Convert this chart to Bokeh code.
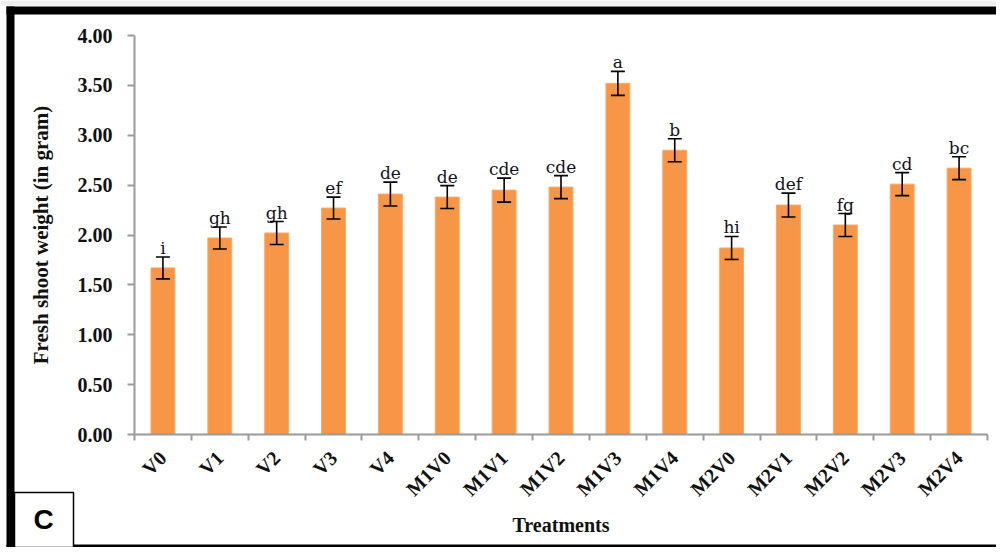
import math
from bokeh.plotting import figure
from bokeh.models import (ColumnDataSource, Whisker, TeeHead, FixedTicker, Label,
                          BoxAnnotation, Range1d, PrintfTickFormatter)
from bokeh.core.properties import value
from bokeh.embed import file_html
from bokeh.resources import INLINE

# ---- data ----
treatments = ["V0", "V1", "V2", "V3", "V4", "M1V0", "M1V1", "M1V2", "M1V3", "M1V4",
              "M2V0", "M2V1", "M2V2", "M2V3", "M2V4"]
means = [1.67, 1.97, 2.02, 2.27, 2.41, 2.38, 2.45, 2.48, 3.52, 2.85,
         1.87, 2.30, 2.10, 2.51, 2.67]
errors = [0.11, 0.11, 0.115, 0.11, 0.12, 0.115, 0.12, 0.115, 0.12, 0.115,
          0.115, 0.12, 0.115, 0.115, 0.115]
letters = ["i", "gh", "gh", "ef", "de", "de", "cde", "cde", "a", "b",
           "hi", "def", "fg", "cd", "bc"]
y_ticks = [0.0, 0.5, 1.0, 1.5, 2.0, 2.5, 3.0, 3.5, 4.0]
y_max = 4.0

n = len(treatments)
xpos = [i + 0.5 for i in range(n)]
src = ColumnDataSource(dict(
    x=xpos, top=means, upper=[m + e for m, e in zip(means, errors)],
    lower=[m - e for m, e in zip(means, errors)], letter=letters))

# ---- layout (pixels on the canvas) ----
W, H = 996, 547
PL, PR, PT, PB = 134, 987, 35, 434      # plotting area of the bars
sx = (PR - PL) / n
sy = (PB - PT) / y_max
x_range = Range1d(-PL / sx, n + (W - PR) / sx)
y_range = Range1d(-(H - PB) / sy, y_max + PT / sy)

p = figure(width=W, height=H, output_backend="svg", toolbar_location=None,
           x_range=x_range, y_range=y_range,
           min_border_left=0, min_border_right=0, min_border_top=0,
           min_border_bottom=0)
p.outline_line_color = None
p.xgrid.visible = False
p.ygrid.visible = False
p.background_fill_color = "white"
p.border_fill_color = "white"

p.vbar(x="x", top="top", width=0.42, source=src, fill_color="#F79646",
       line_color="#F9A866", line_width=1)

wh = Whisker(base="x", upper="upper", lower="lower", source=src,
             line_color="black", line_width=1.6,
             upper_head=TeeHead(size=14, line_color="black", line_width=1.6),
             lower_head=TeeHead(size=14, line_color="black", line_width=1.6))
wh.level = "overlay"
p.add_layout(wh)

p.text(x="x", y="upper", text="letter", source=src, text_align="center",
       text_baseline="alphabetic", y_offset=-9, text_color="#111122",
       text_font=value("DejaVu Serif"), text_font_size="17px")

serif = "Liberation Serif"
axis_color = "#9a9a9a"

# x axis
xa = p.xaxis[0]
xa.fixed_location = 0
xa.bounds = (0, n)
xa.ticker = FixedTicker(ticks=xpos, minor_ticks=list(range(n + 1)))
xa.major_label_overrides = {xv: t for xv, t in zip(xpos, treatments)}
xa.major_tick_out = 0
xa.major_tick_in = 0
xa.minor_tick_out = 6
xa.minor_tick_in = 0
xa.minor_tick_line_color = axis_color
xa.minor_tick_line_width = 2
xa.axis_line_color = axis_color
xa.axis_line_width = 2
xa.major_label_orientation = math.pi / 4
xa.major_label_text_font = serif
xa.major_label_text_font_style = "bold"
xa.major_label_text_font_size = "20px"
xa.major_label_text_color = "#111111"
xa.major_label_standoff = 14
xa.axis_label = "Treatments"
xa.axis_label_text_font = serif
xa.axis_label_text_font_style = "bold"
xa.axis_label_text_font_size = "20px"
xa.axis_label_text_color = "#111111"
xa.axis_label_standoff = 3

# y axis
ya = p.yaxis[0]
ya.fixed_location = 0
ya.bounds = (0, y_max)
ya.ticker = FixedTicker(ticks=y_ticks)
ya.formatter = PrintfTickFormatter(format="%.2f")
ya.major_tick_out = 7
ya.major_tick_in = 0
ya.major_tick_line_color = axis_color
ya.major_tick_line_width = 2
ya.minor_tick_line_color = None
ya.axis_line_color = axis_color
ya.axis_line_width = 2
ya.major_label_text_font = serif
ya.major_label_text_font_style = "bold"
ya.major_label_text_font_size = "20px"
ya.major_label_text_color = "#111111"
ya.major_label_standoff = 15
ya.axis_label = "Fresh shoot weight (in gram)"
ya.axis_label_text_font = serif
ya.axis_label_text_font_style = "bold"
ya.axis_label_text_font_size = "21px"
ya.axis_label_text_color = "#111111"
ya.axis_label_standoff = 22


# panel frame: screen units relative to the plot frame (y upward from bottom)
def box(l, r, t, b, **kw):
    return BoxAnnotation(left=l, right=r, top=H - t, bottom=H - b,
                         left_units="screen", right_units="screen",
                         top_units="screen", bottom_units="screen", **kw)


p.add_layout(box(0, W, 0, 5, fill_color="#eeeeee", fill_alpha=1.0, line_color=None))
p.add_layout(box(6, W, 6, 14, fill_color="black", fill_alpha=1.0, line_color=None))
p.add_layout(box(6, 14, 6, H, fill_color="black", fill_alpha=1.0, line_color=None))
p.add_layout(box(6, W, H - 3, H, fill_color="black", fill_alpha=1.0, line_color=None))
p.add_layout(box(14, 73, 492, H, fill_color="white", fill_alpha=1.0,
                 line_color="black", line_width=1.5, line_alpha=1.0))
p.add_layout(Label(x=43, y=H - 519, x_units="screen", y_units="screen",
                   text="C", text_align="center", text_baseline="middle",
                   text_font="Liberation Sans", text_font_style="bold",
                   text_font_size="28px", text_color="black"))

open("out.html", "w").write(file_html(p, INLINE))
